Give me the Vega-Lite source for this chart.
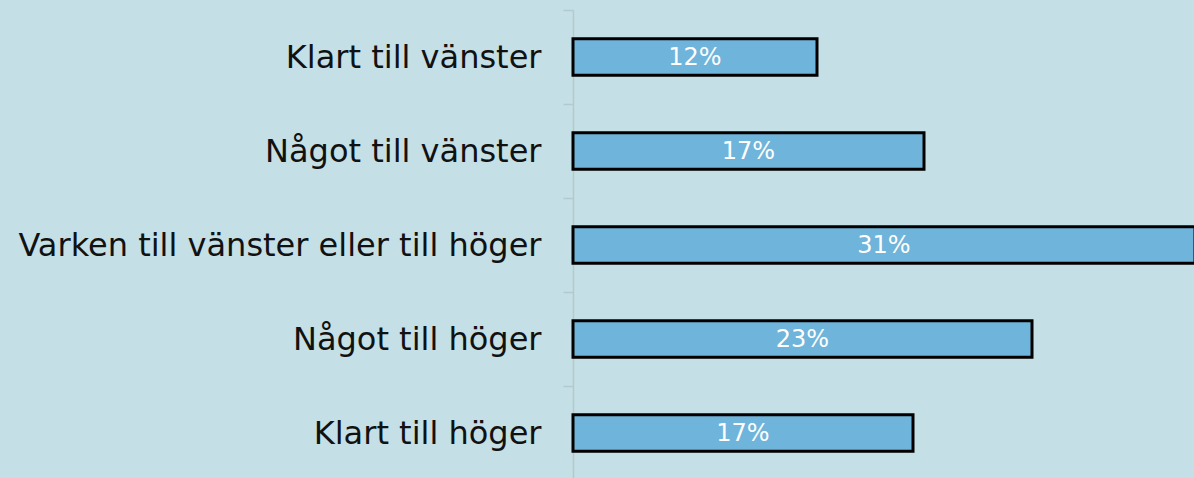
{
  "$schema": "https://vega.github.io/schema/vega-lite/v6.json",
  "autosize": "none",
  "padding": {"left": 573, "top": 10, "right": 0, "bottom": 0},
  "width": 700,
  "height": 470,
  "background": "#c5dfe6",
  "config": {"view": {"stroke": null}},
  "data": {"values": [
    {"category": "Klart till vänster", "value": 12.2, "label": "12%"},
    {"category": "Något till vänster", "value": 17.55, "label": "17%"},
    {"category": "Varken till vänster eller till höger", "value": 31.1, "label": "31%"},
    {"category": "Något till höger", "value": 22.95, "label": "23%"},
    {"category": "Klart till höger", "value": 17.0, "label": "17%"}
  ]},
  "encoding": {
    "y": {"field": "category", "type": "nominal", "sort": null,
      "scale": {"paddingInner": 0, "paddingOuter": 0},
      "axis": {"title": null, "domainColor": "#b3c9d0", "domainWidth": 1.5, "tickColor": "#b3c9d0", "tickWidth": 1.5, "tickSize": 10, "tickBand": "extent",
        "labelFont": "DejaVu Sans", "labelFontSize": 32, "labelColor": "#111111", "labelPadding": 22, "labelLimit": 700}}
  },
  "layer": [
    {
      "mark": {"type": "bar", "fill": "#6fb4da", "stroke": "#000000", "strokeWidth": 3, "clip": false, "height": {"band": 0.39}},
      "encoding": {
        "x": {"field": "value", "type": "quantitative", "scale": {"domain": [0, 35], "nice": false}, "axis": null}
      }
    },
    {
      "mark": {"type": "text", "color": "#ffffff", "font": "DejaVu Sans", "fontSize": 24, "align": "center", "baseline": "middle", "dy": 1},
      "encoding": {
        "x": {"field": "value", "type": "quantitative", "scale": {"domain": [0, 70], "nice": false}, "axis": null},
        "text": {"field": "label"}
      }
    }
  ],
  "resolve": {"scale": {"x": "independent"}}
}
